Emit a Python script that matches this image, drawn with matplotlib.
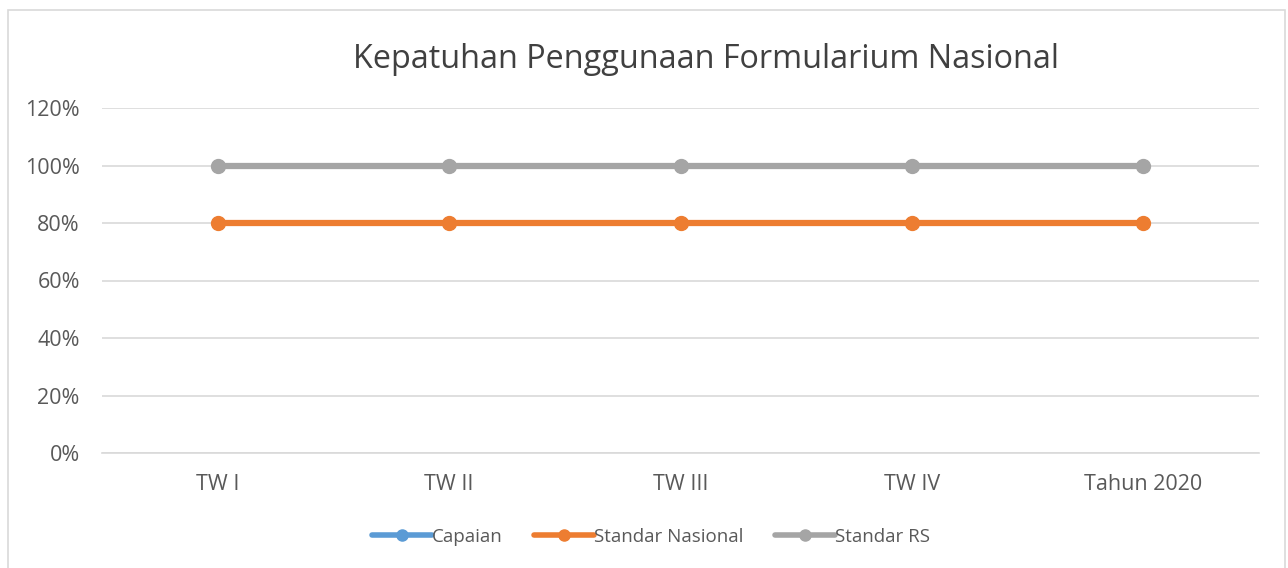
import numpy as np
import matplotlib
matplotlib.use("Agg")
import matplotlib.pyplot as plt
from matplotlib.patches import Rectangle

plt.rcParams['font.family'] = ['Open Sans', 'DejaVu Sans']

categories = ["TW I", "TW II", "TW III", "TW IV", "Tahun 2020"]
capaian = [np.nan, np.nan, np.nan, np.nan, np.nan]
standar_nasional = [0.80, 0.80, 0.80, 0.80, 0.80]
standar_rs = [1.00, 1.00, 1.00, 1.00, 1.00]
yticks = [0, 0.2, 0.4, 0.6, 0.8, 1.0, 1.2]
title = "Kepatuhan Penggunaan Formularium Nasional"

W, H = 1288, 568
fig = plt.figure(figsize=(W / 100, H / 100), dpi=100)
fig.patches.append(Rectangle((8 / W, -0.01), (1285 - 8) / W, 1 - 10 / H + 0.01,
                             transform=fig.transFigure, fill=False,
                             edgecolor="#D9D9D9", linewidth=1.2))

left, right = 102 / W, 1259 / W
top, bottom = 1 - 108 / H, 1 - 453 / H
ax = fig.add_axes([left, bottom, right - left, top - bottom])

x = np.arange(len(categories))
series = [("Capaian", capaian, "#5B9BD5"),
          ("Standar Nasional", standar_nasional, "#ED7D31"),
          ("Standar RS", standar_rs, "#A5A5A5")]
for name, vals, col in series:
    ax.plot(x, vals, color=col, linewidth=4.5, marker="o", markersize=10,
            solid_capstyle="round", label=name, zorder=3)

ax.set_xlim(-0.5, len(categories) - 0.5)
ax.set_ylim(0, 1.2)
ax.set_yticks(yticks)
ax.set_yticklabels([f"{int(round(v * 100))}%" for v in yticks])
ax.set_xticks(x)
ax.set_xticklabels(categories)
ax.grid(axis="y", color="#D9D9D9", linewidth=1.2, zorder=0)
ax.set_axisbelow(True)
for s in ["top", "right", "left"]:
    ax.spines[s].set_visible(False)
ax.spines["bottom"].set_color("#D9D9D9")
ax.spines["bottom"].set_linewidth(1.2)
ax.tick_params(axis="both", length=0, labelsize=15.5, colors="#595959")
ax.tick_params(axis="y", pad=16)
ax.tick_params(axis="x", pad=15)

fig.text(706 / W, 1 - 60 / H, title, ha="center", va="center",
         fontsize=23.3, color="#404040")

leg = fig.legend(loc="center", bbox_to_anchor=(651 / W, 1 - 537 / H), ncol=3,
                 frameon=False, fontsize=13.5, handlelength=3.2,
                 handletextpad=0.0, columnspacing=1.7, labelcolor="#595959")
for h in leg.legend_handles:
    h.set_markersize(8)
    h.set_linewidth(4)

fig.savefig("out.png", dpi=100)
